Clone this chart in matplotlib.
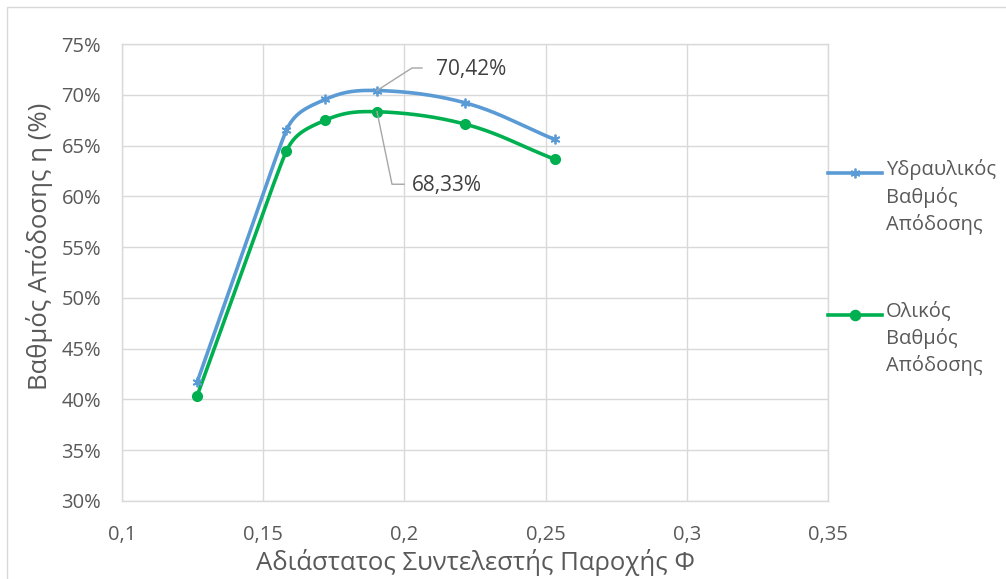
import numpy as np
import matplotlib
matplotlib.use("Agg")
import matplotlib.pyplot as plt
import matplotlib.transforms as mtransforms
from matplotlib.lines import Line2D
from matplotlib.patches import Rectangle

plt.rcParams['font.family'] = ['Open Sans', 'DejaVu Sans']

# Flow coefficient and efficiencies
phi = [0.1266, 0.1582, 0.1720, 0.1903, 0.2216, 0.2532]
eta_hydraulic = [41.7, 66.5, 69.55, 70.42, 69.2, 65.6]
eta_total = [40.35, 64.45, 67.5, 68.33, 67.1, 63.65]

series_labels = ["Υδραυλικός\nΒαθμός\nΑπόδοσης", "Ολικός\nΒαθμός\nΑπόδοσης"]
x_ticks = [0.10, 0.15, 0.20, 0.25, 0.30, 0.35]
x_ticklabels = ["0,1", "0,15", "0,2", "0,25", "0,3", "0,35"]
y_ticks = [30, 35, 40, 45, 50, 55, 60, 65, 70, 75]
y_ticklabels = [f"{v}%" for v in y_ticks]

BLUE = "#5B9BD5"
GREEN = "#00B050"
GRID = "#D9D9D9"
TXT = "#595959"
LEADER = "#A6A6A6"


def smooth(ax, xs, ys, n=60, k=0.4):
    """Smooth curve through all points: cubic Bezier segments built in screen
    space, tangent along the neighbour chord, handle length limited by the
    shorter neighbouring segment."""
    p = ax.transData.transform(np.column_stack([xs, ys]))
    m = len(p)
    seg_len = np.linalg.norm(np.diff(p, axis=0), axis=1)
    tang = np.zeros_like(p)
    hlen = np.zeros(m)
    for i in range(m):
        a = p[max(i - 1, 0)]
        b = p[min(i + 1, m - 1)]
        d = b - a
        tang[i] = d / np.linalg.norm(d)
        near = [seg_len[j] for j in (i - 1, i) if 0 <= j < m - 1]
        hlen[i] = k * min(near)
    t = np.linspace(0, 1, n)[:, None]
    out = []
    for i in range(m - 1):
        p1, p2 = p[i], p[i + 1]
        c1 = p1 + tang[i] * hlen[i]
        c2 = p2 - tang[i + 1] * hlen[i + 1]
        seg = ((1 - t) ** 3) * p1 + 3 * ((1 - t) ** 2) * t * c1 + 3 * (1 - t) * t ** 2 * c2 + t ** 3 * p2
        out.append(seg if i == 0 else seg[1:])
    s = ax.transData.inverted().transform(np.vstack(out))
    return s[:, 0], s[:, 1]


W, H = 1006, 579
fig = plt.figure(figsize=(W / 100, H / 100), dpi=100)
ax = fig.add_axes([122 / W, 1 - 501 / H, (828 - 122) / W, (501 - 44) / H])
ax.set_xlim(0.10, 0.35)
ax.set_ylim(30, 75)

# chart frame
fig.add_artist(Rectangle((7 / W, -0.1), 1.2, 1 - 7 / H + 0.1, transform=fig.transFigure,
                         fill=False, edgecolor=GRID, linewidth=1.0))

sx, sy = smooth(ax, phi, eta_hydraulic)
ax.plot(sx, sy, color=BLUE, linewidth=2.6, solid_capstyle="round", zorder=3)
ax.plot(phi, eta_hydraulic, linestyle="none", marker=(6, 2, 0), markersize=7,
        markeredgecolor=BLUE, markeredgewidth=1.3, zorder=4)

gx, gy = smooth(ax, phi, eta_total)
ax.plot(gx, gy, color=GREEN, linewidth=2.6, solid_capstyle="round", zorder=3)
ax.plot(phi, eta_total, linestyle="none", marker="o", markersize=7,
        color=GREEN, zorder=4)

ax.set_xticks(x_ticks)
ax.set_xticklabels(x_ticklabels)
ax.set_yticks(y_ticks)
ax.set_yticklabels(y_ticklabels)
ax.tick_params(length=0, labelsize=14.5, labelcolor=TXT)
ax.tick_params(axis="y", pad=15)
ax.tick_params(axis="x", pad=17)
ax.grid(True, color=GRID, linewidth=1.0)
ax.set_axisbelow(True)
for sp in ax.spines.values():
    sp.set_color(GRID)
    sp.set_linewidth(1.0)

ax.set_xlabel("Αδιάστατος Συντελεστής Παροχής Φ", fontsize=18.5, color=TXT)
ax.set_ylabel("Βαθμός Απόδοσης η (%)", fontsize=18.5, color=TXT)
ax.xaxis.set_label_coords(0.5, (501 - 562) / 457)
ax.xaxis.label.set_va("center")
ax.yaxis.set_label_coords((40 - 122) / 706, (501 - 246) / 457)
ax.yaxis.label.set_va("center")


def callout(x, y, value, path, text_off):
    """Value label joined to its point by a bent leader line (offsets in pixels)."""
    base = mtransforms.ScaledTranslation(x, y, ax.transData)
    tr = mtransforms.IdentityTransform() + base
    px = [0] + [q[0] for q in path]
    py = [0] + [q[1] for q in path]
    ax.add_line(Line2D(px, py, transform=tr, color=LEADER, linewidth=1.0, zorder=5))
    ax.annotate(f"{value:.2f}%".replace(".", ","), xy=(x, y), xytext=text_off,
                textcoords="offset pixels", fontsize=15, color="#404040",
                va="center", ha="left", zorder=6)


i_peak = int(np.argmax(eta_hydraulic))
callout(phi[i_peak], eta_hydraulic[i_peak], eta_hydraulic[i_peak],
        [(35, 22.5), (45, 22.5)], (59, 21))
j_peak = int(np.argmax(eta_total))
callout(phi[j_peak], eta_total[j_peak], eta_total[j_peak],
        [(15, -72.5), (27, -72.5)], (35, -74))

# legend drawn at the right of the plot area
for (label, color, marker, y0) in [
        (series_labels[0], BLUE, (6, 2, 0), 173),
        (series_labels[1], GREEN, "o", 315)]:
    yf = 1 - y0 / H
    fig.add_artist(Line2D([828 / W, 882 / W], [yf, yf], transform=fig.transFigure,
                          color=color, linewidth=2.6))
    fig.add_artist(Line2D([855 / W], [yf], transform=fig.transFigure, linestyle="none",
                          marker=marker, markersize=7, color=color,
                          markeredgecolor=color, markeredgewidth=1.3))
    fig.text(886 / W, 1 - (y0 - 14) / H, label, fontsize=14.5, color=TXT,
             va="top", ha="left", linespacing=1.42)

fig.savefig("out.png", dpi=100, facecolor="white")
